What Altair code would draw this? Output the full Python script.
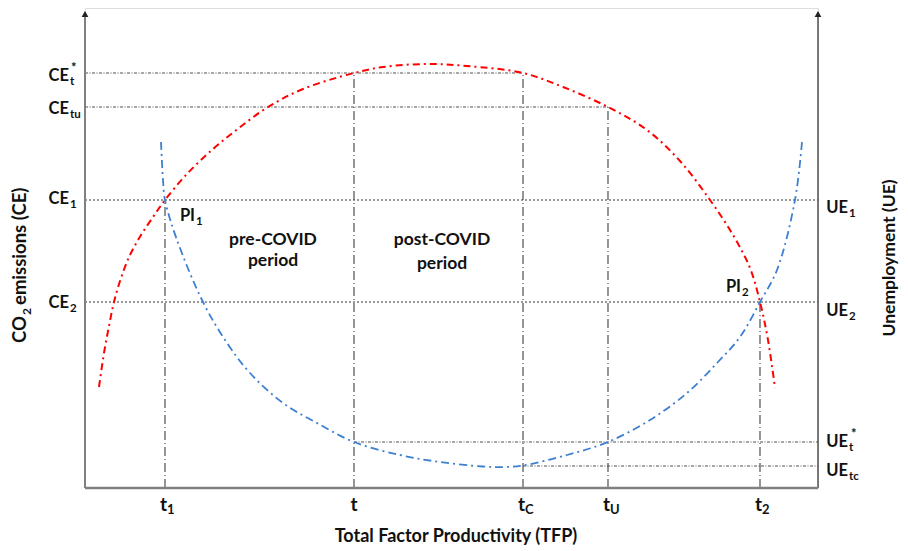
import altair as alt
import pandas as pd

# ---------------- data ----------------
# CO2 emissions curve (red): TFP position vs CE level
tfp_ce = [14, 19, 24, 29, 36, 45, 56, 68, 80, 101, 128, 154, 183, 218, 269, 298, 342,
          382, 438, 478, 523, 562, 595, 625, 648, 665, 675, 683, 690]
ce_vals = [101, 135, 162, 186, 210, 233, 253, 271, 288, 313, 339, 360, 381, 399, 415, 421, 424,
           422, 415, 401, 381, 358, 327, 288, 253, 220, 186, 148, 100]

# Unemployment curve (blue): TFP position vs UE level
tfp_ue = [76, 78, 80, 92, 118, 142, 165, 198, 232, 269, 315, 355, 398, 420, 438,
          482, 523, 565, 602, 632, 655, 675, 692, 710, 717]
ue_vals = [346, 308, 288, 248, 186, 145, 115, 85, 65, 46, 33, 26, 21.5, 21, 22.5,
           33, 46, 68, 95, 125, 151, 186, 218, 288, 346]

# TFP tick marks
t_main = ["t", "t", "t", "t", "t"]
t_subs = ["1", "", "C", "U", "2"]
t_vals = [80, 269, 438, 523, 675]

# CE levels (left)
ce_main = ["CE", "CE", "CE", "CE"]
ce_subs = ["t", "tu", "1", "2"]
ce_sups = ["*", "", "", ""]
ce_levels = [415, 381, 288, 186]

# UE levels (right)
ue_main = ["UE", "UE", "UE", "UE"]
ue_subs = ["1", "2", "t", "tc"]
ue_sups = ["", "", "*", ""]
ue_levels = [288, 186, 46, 22]

X_MAX = 733
Y_MAX = 480

# ---------------- styling ----------------
FONT = "Lato"
xs = alt.Scale(domain=[0, X_MAX], nice=False, zero=False)
ys = alt.Scale(domain=[0, Y_MAX], nice=False, zero=False)

# label layout offsets (pixels)
ce_dy = [3, 2, -1, 1]
ue_dy = [8, 9, 0, 5]


def XY(xf="x", yf="y"):
    return dict(x=alt.X(f"{xf}:Q", scale=xs, axis=None),
                y=alt.Y(f"{yf}:Q", scale=ys, axis=None))


def txt(df, size, **mk):
    return alt.Chart(df).mark_text(font=FONT, fontWeight="bold", color="#111111",
                                   fontSize=size, baseline="middle", **mk).encode(
        text="label:N", **XY())


layers = []

# ---- reference lines ----
T1, T, TC, TU, T2 = t_vals
CET, CETU, CE1, CE2 = ce_levels
UE1, UE2, UET, UETC = ue_levels

h_dot = pd.DataFrame({"x": [0, 0], "x2": [X_MAX, X_MAX], "y": [CE1, CE2]})
h_dd = pd.DataFrame({"x": [0, 0, T, TC], "x2": [TC, TU, X_MAX, X_MAX],
                     "y": [CET, CETU, UET, UETC]})
v_dd = pd.DataFrame({"x": t_vals, "y": [0] * 5, "y2": [CE1, CET, CET, CETU, CE2]})

layers.append(alt.Chart(h_dot).mark_rule(color="#333333", strokeWidth=1.2,
                                          strokeDash=[2, 2]).encode(
    x2="x2:Q", **XY()))
layers.append(alt.Chart(h_dd).mark_rule(color="#505050", strokeWidth=1,
                                         strokeDash=[3, 1.5, 1, 1.5]).encode(
    x2="x2:Q", **XY()))
layers.append(alt.Chart(v_dd).mark_rule(color="#505050", strokeWidth=1.2,
                                         strokeDash=[9, 3, 1, 3]).encode(
    y2="y2:Q", **XY()))

# ---- curves ----
red_df = pd.DataFrame({"x": tfp_ce, "y": ce_vals, "i": range(len(tfp_ce))})
blue_df = pd.DataFrame({"x": tfp_ue, "y": ue_vals, "i": range(len(tfp_ue))})
layers.append(alt.Chart(red_df).mark_line(color="#ff0000", strokeWidth=2,
                                           strokeDash=[7, 4, 2, 4],
                                           interpolate="catmull-rom").encode(
    order="i:Q", **XY()))
layers.append(alt.Chart(blue_df).mark_line(color="#3d7fd0", strokeWidth=1.8,
                                            strokeDash=[8, 4, 2, 4],
                                            interpolate="catmull-rom").encode(
    order="i:Q", **XY()))

# ---- axes frame ----
frame_v = pd.DataFrame({"x": [0], "y": [0], "y2": [Y_MAX - 4]})
frame_r = pd.DataFrame({"x": [X_MAX], "y": [0], "y2": [Y_MAX - 4]})
frame_b = pd.DataFrame({"x": [0], "x2": [X_MAX], "y": [0]})
layers.append(alt.Chart(frame_v).mark_rule(color="#808080", strokeWidth=2).encode(
    y2="y2:Q", **XY()))
layers.append(alt.Chart(frame_r).mark_rule(color="#505050", strokeWidth=1.5).encode(
    y2="y2:Q", **XY()))
layers.append(alt.Chart(frame_b).mark_rule(color="#808080", strokeWidth=2.5).encode(
    x2="x2:Q", **XY()))
arrows = pd.DataFrame({"x": [0, X_MAX], "y": [Y_MAX - 6, Y_MAX - 6]})
layers.append(alt.Chart(arrows).mark_point(shape="triangle-up", filled=True, size=45,
                                            color="#222222", opacity=1).encode(**XY()))

# ---- left labels ----
for m, s, p, v, d in zip(ce_main, ce_subs, ce_sups, ce_levels, ce_dy):
    layers.append(txt(pd.DataFrame({"x": [0], "y": [v], "label": [m]}), 16.5,
                      align="right", dx=-16, dy=d))
    layers.append(txt(pd.DataFrame({"x": [0], "y": [v], "label": [s]}), 11.5,
                      align="left", dx=-15, dy=d + 6))
    if p:
        layers.append(txt(pd.DataFrame({"x": [0], "y": [v], "label": [p]}), 13,
                          align="left", dx=-14, dy=d - 8))

# ---- right labels ----
for m, s, p, v, d in zip(ue_main, ue_subs, ue_sups, ue_levels, ue_dy):
    layers.append(txt(pd.DataFrame({"x": [X_MAX], "y": [v], "label": [m]}), 16.5,
                      align="right", dx=30, dy=d))
    layers.append(txt(pd.DataFrame({"x": [X_MAX], "y": [v], "label": [s]}), 11.5,
                      align="left", dx=31, dy=d + 6))
    if p:
        layers.append(txt(pd.DataFrame({"x": [X_MAX], "y": [v], "label": [p]}), 13,
                          align="left", dx=33, dy=d - 8))

# ---- bottom tick labels ----
for m, s, v in zip(t_main, t_subs, t_vals):
    if s:
        layers.append(txt(pd.DataFrame({"x": [v], "y": [0], "label": [m]}), 19,
                          align="right", dx=2, dy=17))
        layers.append(txt(pd.DataFrame({"x": [v], "y": [0], "label": [s]}), 13,
                          align="left", dx=2, dy=22))
    else:
        layers.append(txt(pd.DataFrame({"x": [v], "y": [0], "label": [m]}), 19,
                          align="center", dy=17))

# ---- intersection labels ----
layers.append(txt(pd.DataFrame({"x": [T1], "y": [CE1], "label": ["PI"]}), 16.5,
                  align="right", dx=30, dy=16))
layers.append(txt(pd.DataFrame({"x": [T1], "y": [CE1], "label": ["1"]}), 11.5,
                  align="left", dx=31, dy=22))
layers.append(txt(pd.DataFrame({"x": [T2], "y": [CE2], "label": ["PI"]}), 16.5,
                  align="right", dx=-19, dy=-15))
layers.append(txt(pd.DataFrame({"x": [T2], "y": [CE2], "label": ["2"]}), 11.5,
                  align="left", dx=-18, dy=-9))

# ---- period annotations ----
period_df = pd.DataFrame({"x": [188, 188, 357, 357],
                          "y": [248, 227, 248, 224],
                          "label": ["pre-COVID", "period", "post-COVID", "period"]})
layers.append(txt(period_df, 17.5, align="center"))

# ---- axis titles ----
layers.append(txt(pd.DataFrame({"x": [371], "y": [0],
                                "label": ["Total Factor Productivity (TFP)"]}), 18,
                  align="center", dy=49))
layers.append(txt(pd.DataFrame({"x": [-65], "y": [172], "label": ["CO"]}), 18.5,
                  align="right", angle=270))
layers.append(txt(pd.DataFrame({"x": [-58.5], "y": [173], "label": ["2"]}), 12,
                  align="left", angle=270))
layers.append(txt(pd.DataFrame({"x": [-65], "y": [183], "label": ["emissions (CE)"]}), 18.5,
                  align="left", angle=270))
layers.append(txt(pd.DataFrame({"x": [805], "y": [230], "label": ["Unemployment (UE)"]}), 17.5,
                  align="center", angle=270))

chart = alt.layer(*layers).properties(
    width=X_MAX, height=Y_MAX,
    autosize=alt.AutoSizeParams(type="none"),
    padding={"left": 77, "top": 0, "right": 82, "bottom": 63},
).configure_view(stroke=None).configure(background="white")

chart.save("out.html", embed_options={"renderer": "svg", "actions": False})
